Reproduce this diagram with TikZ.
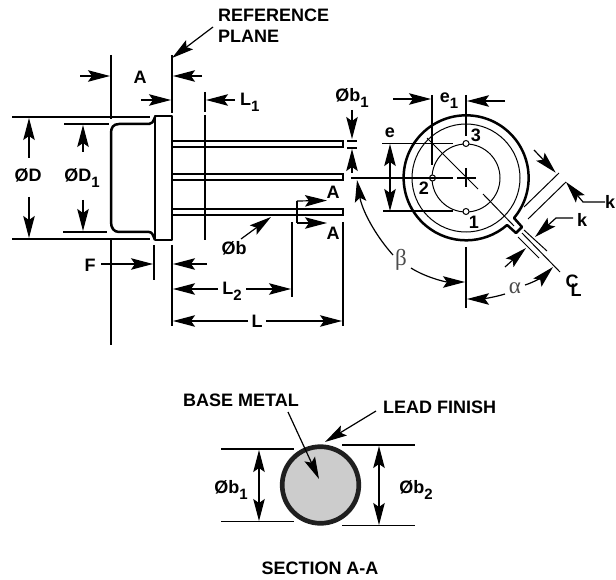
\documentclass[tikz,border=0pt]{standalone}
\usepackage{fontspec}
\setmainfont{Liberation Sans}
\newfontfamily\grk{Liberation Serif}
\usetikzlibrary{arrows.meta}
\newcommand{\sbs}[1]{\raisebox{-0.32em}{\fontsize{15}{15}\selectfont #1}}
\tikzset{
 x=1pt,y=-1pt,
 dim/.style={line width=1.2pt},
 outl/.style={line width=2.5pt,line join=round},
 thin line/.style={line width=1pt},
 ar/.style={dim,-{Stealth[length=22pt,width=11.5pt,inset=4pt]}},
 dar/.style={dim,{Stealth[length=22pt,width=11.5pt,inset=4pt]}-{Stealth[length=22pt,width=11.5pt,inset=4pt]}},
 lab/.style={font=\fontsize{18}{18}\selectfont\bfseries,inner sep=0pt,text=black},
 grklab/.style={font=\fontsize{23}{23}\selectfont\grk,inner sep=0pt,text=black!70},
}
\begin{document}
\begin{tikzpicture}
\useasboundingbox (0,0) rectangle (616,580);
% side view: body
\draw[outl] (155,117) .. controls (153,122) and (152,124) .. (149,124) -- (119,124) .. controls (113,124) and (111,128) .. (111,133) -- (111,222) .. controls (111,228) and (114,232) .. (119,232) -- (149,232) .. controls (152,232) and (153,235) .. (155,240);
\draw[outl] (155,116) -- (172,116) -- (172,240) -- (155,240) -- cycle;
% leads
\foreach \a/\b in {141/147,174/180,209/215}{
 \draw[line width=2.2pt] (172,\a) -- (343,\a) -- (343,\b) -- (172,\b);
}
% extension lines
\draw[dim] (12,117) -- (150,117);
\draw[dim] (12,239) -- (150,239);
\draw[dim] (64,124) -- (109,124);
\draw[dim] (63,232) -- (107,232);
\draw[dim] (111,55) -- (111,119);
\draw[dim] (111,240) -- (111,345);
\draw[dim] (172,55) -- (172,113);
\draw[dim] (205,92) -- (205,112);
\draw[dim] (205,115) -- (205,240);
\draw[dim] (172,245) -- (172,326);
\draw[dim] (154,245) -- (154,280);
\draw[dim] (292,222) -- (292,297);
\draw[dim] (343,222) -- (343,326);
% arrows side view
\draw[ar] (213,27) -- (172,58);
\draw[ar] (80,76) -- (110,76);
\draw[ar] (202,76) -- (173,76);
\draw[ar] (141,100) -- (171,100);
\draw[ar] (235,100) -- (206,100);
\draw[ar] (29,158) -- (29,118);
\draw[ar] (29,197) -- (29,238);
\draw[ar] (83,152) -- (83,125);
\draw[ar] (83,200) -- (83,231);
\draw[ar] (101,264) -- (153,264);
\draw[ar] (207,264) -- (173,264);
\draw[ar] (218,289) -- (173,289);
\draw[ar] (246,289) -- (291,289);
\draw[ar] (248,321) -- (173,321);
\draw[ar] (266,321) -- (342,321);
\draw[ar] (241,239) -- (271,217);
\draw[dim] (297,201) -- (297,223);
\draw[ar] (297,201) -- (327,200.5);
\draw[ar] (297,223) -- (327,223);
% Øb1 marks
\draw[ar] (352,110) -- (352,139);
\draw[ar] (352,173) -- (352,149);
\draw[dim] (347,141) -- (357,141);
\draw[dim] (347,148) -- (357,148);
% end view
\draw[outl] (514,218) arc (40:-311:62.5) -- (516,233) -- (522,227) -- cycle;
\draw[thin line] (466,178) circle (54);
\draw[thin line] (466,178) circle (34);
\draw[thin line,fill=white] (466,143.5) circle (3);
\draw[thin line,fill=white] (432.5,178) circle (3);
\draw[thin line,fill=white] (466,211.5) circle (3);
\draw[dim] (351,178) -- (453,178);
\draw[dim] (457,178) -- (476,178);
\draw[dim] (466,168) -- (466,187);
\draw[dim] (382,143.5) -- (453,143.5);
\draw[dim] (383,211) -- (453,211);
\draw[dar] (390,144) -- (390,211);
\draw[dim] (432,95) -- (432,165);
\draw[dim] (466,95) -- (466,136);
\draw[ar] (393,99) -- (431,99);
\draw[ar] (505,101) -- (467,101);
% centreline
\draw[thin line] (427,138) -- (478,189);
\draw[thin line] (483,194) -- (514,226);
\draw[thin line] (524,207) -- (559,173);
\draw[thin line] (528,219) -- (566,182);
\draw[thin line] (524,230) -- (547,251);
\draw[thin line] (518,237) -- (539,258);
\draw[thin line] (522,233) -- (560,272);
\draw[dim] (466,247) -- (466,308);
\draw[ar] (534,150) -- (555.7,172.7);
\draw[ar] (605,202) -- (583,202) -- (566,182);
\draw[ar] (573,218) -- (556,218) -- (535,237);
\draw[ar] (505,267) -- (526,248);
\draw[ar] (525,285) .. controls (535,282) and (545,275) .. (553,267);
\draw[ar] (505,294) .. controls (492,298) and (480,299) .. (467,299);
\draw[ar] (411,268) .. controls (425,277) and (445,282) .. (465,282);
\draw[ar] (393,255) .. controls (375,235) and (362,210) .. (357,180);
% section
\draw[line width=4.7pt,draw=black!88,fill=black!20] (320.5,485) circle (38.3);
\draw[dim] (221,449) -- (294,449);
\draw[dim] (221,521.7) -- (294,521.7);
\draw[dim] (342,445) -- (415,445);
\draw[dim] (342,525.7) -- (415,525.7);
\draw[dar] (259,450) -- (259,521);
\draw[dar] (379,446) -- (379,525);
\draw[ar] (288,412) -- (319,479);
\draw[ar] (376,411) -- (325,442);
% labels
\node[lab,anchor=west,align=left] (refplane) at (218,26) {REFERENCE\\[3pt]PLANE};
\node[lab] (la) at (140,77) {A};
\node[lab,anchor=west] (ll1) at (240,102) {L\sbs{1}};
\node[lab] (lbone) at (352,98) {Øb\sbs{1}};
\node[lab] (ld) at (28,175) {ØD};
\node[lab] (ldone) at (82,178) {ØD\sbs{1}};
\node[lab] (lf) at (90,265) {F};
\node[lab] (lb) at (234,248) {Øb};
\node[lab] (lltwo) at (232,291) {L\sbs{2}};
\node[lab] (ll) at (257,321) {L};
\node[lab] (aone) at (333,192) {A};
\node[lab] (atwo) at (333,233) {A};
\node[lab] (le) at (390,133) {e};
\node[lab] (leone) at (449,101) {e\sbs{1}};
\node[lab] (p3) at (476,135) {3};
\node[lab] (p2) at (424,188) {2};
\node[lab] (p1) at (474,222) {1};
\node[lab] (kone) at (610,202) {k};
\node[lab] (ktwo) at (582,220) {k};
\node[grklab] (lbeta) at (401,260) {β};
\node[grklab] (lalpha) at (515,288) {α};
\node[lab] (clc) at (572,281) {C};
\node[lab] (cll) at (576,290) {L};
\node[lab,anchor=west] (base) at (183,400) {BASE METAL};
\node[lab,anchor=west] (lead) at (383,407) {LEAD FINISH};
\node[lab] (sbone) at (231,490) {Øb\sbs{1}};
\node[lab] (sbtwo) at (416,490) {Øb\sbs{2}};
\node[lab] (sect) at (320,568) {SECTION A-A};
\end{tikzpicture}
\end{document}
